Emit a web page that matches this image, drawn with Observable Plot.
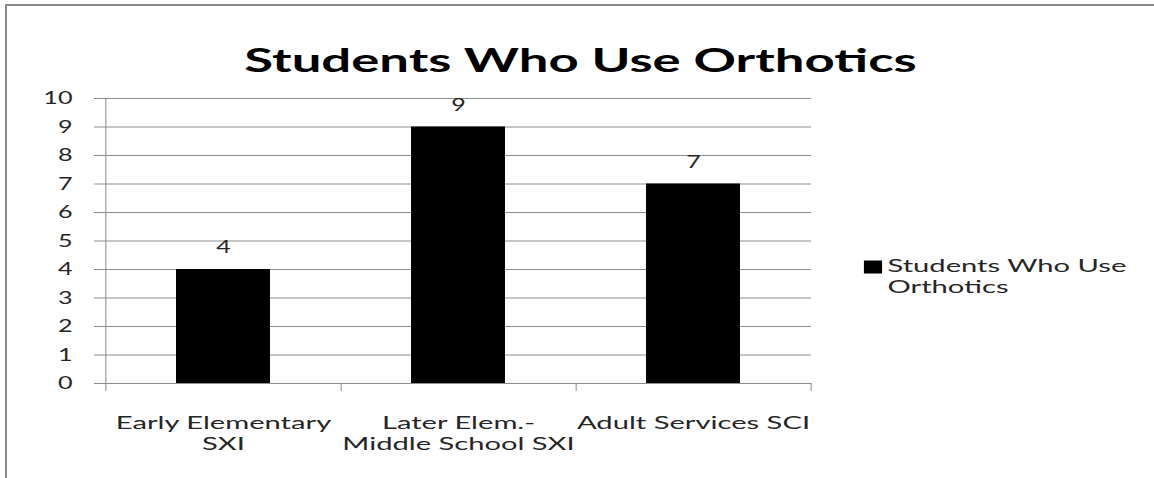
<!DOCTYPE html>
<html>
<head>
<meta charset="utf-8">
<script src="https://cdn.jsdelivr.net/npm/d3@7"></script>
<script src="https://cdn.jsdelivr.net/npm/@observablehq/plot@0.6"></script>
<style>
  html, body { margin: 0; padding: 0; background: #ffffff; }
  #wrap { position: relative; width: 1154px; height: 478px; overflow: hidden; }
  #border { position: absolute; left: 5px; top: 4px; width: 1160px; height: 490px;
            border-left: 2px solid #8a8a8a; border-top: 2px solid #8a8a8a; pointer-events: none; }
</style>
</head>
<body>
<div id="wrap"><div id="border"></div></div>
<script>
const titleText = "Students Who Use Orthotics";
const seriesName = "Students Who Use Orthotics";
const legendLines = "Students Who Use\nOrthotics";
const categories = ["Early Elementary SXI", "Later Elem.- Middle School SXI", "Adult Services SCI"];
const categoryLabels = ["Early Elementary\nSXI", "Later Elem.-\nMiddle School SXI", "Adult Services SCI"];
const values = [4, 9, 7];
const yTicks = [0, 1, 2, 3, 4, 5, 6, 7, 8, 9, 10];

const data = categories.map((c, i) => ({category: c, label: categoryLabels[i], value: values[i]}));

const GRID = "#8c8c8c";
const TXT = "#262626";
const HALF_STEP = 706 / 3 / 2;
const STRETCH_DIGITS = 1.4;
const STRETCH_WORDS = 1.62;

const svg = Plot.plot({
  width: 1154,
  height: 478,
  marginLeft: 105,
  marginRight: 343,
  marginTop: 98,
  marginBottom: 95,
  style: {fontFamily: "Lato, 'Open Sans', sans-serif", background: "transparent", overflow: "visible"},
  x: {domain: categoryLabels, paddingInner: 0.6, paddingOuter: 0.3, label: null},
  y: {domain: [0, 10], label: null},
  marks: [
    Plot.ruleY(yTicks, {stroke: GRID, insetLeft: -11}),
    Plot.ruleX([categoryLabels[0]], {x: d => d, y1: 10, y2: 0, dx: -HALF_STEP, insetBottom: -8, stroke: GRID}),
    Plot.ruleX(categoryLabels, {x: d => d, y1: 0, y2: 0, dx: HALF_STEP, insetBottom: -8, stroke: GRID}),
    Plot.barY(data, {x: "label", y: "value", fill: "black"}),
    Plot.text(data, {x: "label", y: "value", text: d => String(d.value), dy: -22, fontSize: 18, fill: TXT}),
    Plot.axisY(yTicks, {tickSize: 0, tickPadding: 33, fontSize: 18, color: TXT}),
    Plot.axisX({tickSize: 0, tickPadding: 30, fontSize: 18, lineHeight: 1.2, color: TXT}),
    Plot.text([titleText], {frameAnchor: "top", dx: 122, dy: -50, fontSize: 32.5, fontWeight: "bold", fill: "black"}),
    Plot.dot([seriesName], {frameAnchor: "right", dx: 61.5, dy: 26, symbol: "square", r: 7.33, fill: "black"}),
    Plot.text([legendLines], {frameAnchor: "right", dx: 76, dy: 35, textAnchor: "start", fontSize: 18, lineHeight: 1.17, fill: TXT})
  ]
});

// the reference rendering is horizontally stretched: widen glyphs about their anchors
d3.select(svg).selectAll("text").each(function() {
  const t = this.getAttribute("transform");
  const s = /^\d+$/.test(this.textContent.trim()) ? STRETCH_DIGITS : STRETCH_WORDS;
  this.setAttribute("transform", (t ? t + " " : "") + `scale(${s},1)`);
});
d3.select(svg).selectAll("g[aria-label='dot'] path").each(function() {
  const t = this.getAttribute("transform");
  this.setAttribute("transform", (t ? t + " " : "") + `scale(${STRETCH_DIGITS},1)`);
});

const wrap = document.getElementById("wrap");
wrap.insertBefore(svg, wrap.firstChild);
svg.style.position = "absolute";
svg.style.left = "0px";
svg.style.top = "0px";
</script>
</body>
</html>
